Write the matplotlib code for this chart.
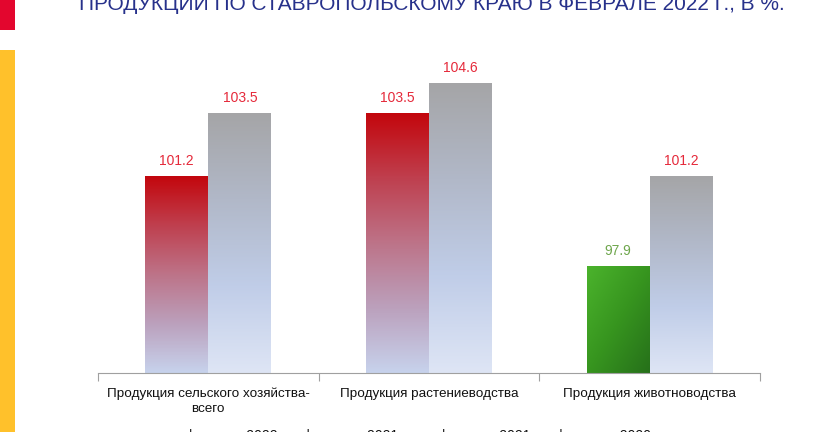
import numpy as np
import matplotlib
matplotlib.use("Agg")
import matplotlib.pyplot as plt
from matplotlib.colors import LinearSegmentedColormap
from matplotlib.patches import Rectangle

plt.rcParams['font.family'] = ['Liberation Sans', 'DejaVu Sans']

# ---- data ----
categories = ["Продукция сельского хозяйства-\nвсего",
              "Продукция растениеводства",
              "Продукция животноводства"]
series_2022 = [101.2, 103.5, 97.9]
series_2021 = [103.5, 104.6, 101.2]
legend_labels = ["февраль 2022 г. к февралю 2021 г.",
                 "февраль 2021 г. к февралю 2020 г."]
title = "ПРОДУКЦИИ ПО СТАВРОПОЛЬСКОМУ КРАЮ В ФЕВРАЛЕ 2022 Г., В %."

W, H = 832, 432
fig = plt.figure(figsize=(W / 100, H / 100), dpi=100)
fig.patch.set_facecolor('white')

# decorations on the left
fig.add_artist(Rectangle((0, 1 - 30 / H), 15 / W, 30 / H, transform=fig.transFigure,
                         facecolor='#E3062E', edgecolor='none'))
fig.add_artist(Rectangle((0, 0), 15 / W, (H - 50) / H, transform=fig.transFigure,
                         facecolor='#FFC12B', edgecolor='none'))

# title (cut off at the top, as in the reference)
fig.text(432 / W, 1 - 10 / H, title, ha='center', va='baseline', fontsize=15,
         color='#27318B')

ymin, ymax = 94, 106
ax = fig.add_axes([98 / W, 1 - 373 / H, (760 - 98) / W, (12 * 27.4) / H])
ax.set_xlim(-0.5, 2.5)
ax.set_ylim(ymin, ymax)
for s in ['top', 'right', 'left']:
    ax.spines[s].set_visible(False)
ax.spines['bottom'].set_color('#A0A0A0')
ax.set_yticks([])
ax.set_xticks([-0.5, 0.5, 1.5, 2.5], minor=False)
ax.set_xticklabels([])
ax.tick_params(axis='x', length=6, color='#A0A0A0', direction='out')
for i, c in enumerate(categories):
    ax.text(i, -0.045, c, transform=ax.get_xaxis_transform(), ha='center', va='top',
            fontsize=9.7, color='#111111', linespacing=1.25)

red_cmap = LinearSegmentedColormap.from_list('r', ['#C3060C', '#BF3F4E', '#BD7388', '#BBA0BC', '#C7D2EC'])
gray_cmap = LinearSegmentedColormap.from_list('g', ['#A5A5A7', '#B1B8C8', '#C0CDE8', '#DEE5F5'])
green_cmap = LinearSegmentedColormap.from_list('gr', ['#4BB32C', '#37951F', '#26701A'])

bw = 0.285
off = 0.143
x = np.arange(len(categories))

def grad_bar(xc, val, cmap, diagonal=False):
    b = ax.bar(xc, val - ymin, bw, bottom=ymin, facecolor='none', edgecolor='none')[0]
    if diagonal:
        yy, xx = np.mgrid[0:1:100j, 0:1:100j]
        img = (xx * 0.5 + yy * 0.5)
    else:
        img = np.linspace(0, 1, 200).reshape(-1, 1)
    im = ax.imshow(img, cmap=cmap, aspect='auto', origin='upper',
                   extent=[xc - bw / 2, xc + bw / 2, ymin, val], zorder=2)
    im.set_clip_path(b)
    return b

for i in range(len(categories)):
    v1 = series_2022[i]
    v2 = series_2021[i]
    green = v1 < 100
    grad_bar(x[i] - off, v1, green_cmap if green else red_cmap, diagonal=green)
    grad_bar(x[i] + off, v2, gray_cmap)
    ax.text(x[i] - off, v1 + 0.28, f"{v1:.1f}", ha='center', va='bottom', fontsize=10,
            color='#6EA64C' if green else '#E5293A')
    ax.text(x[i] + off, v2 + 0.28, f"{v2:.1f}", ha='center', va='bottom', fontsize=10,
            color='#E5293A')
ax.set_xlim(-0.5, 2.5)
ax.set_ylim(ymin, ymax)

# legend (cut off at the bottom, as in the reference)
leg_x = [172, 425]
leg_cols = ['#C3060C', '#A5A5A7']
for lx, lab, col in zip(leg_x, legend_labels, leg_cols):
    fig.add_artist(Rectangle((lx / W, 1 - 440 / H), 8 / W, 8 / H, transform=fig.transFigure,
                             facecolor=col, edgecolor='none'))
    fig.text((lx + 13) / W, 1 - 429 / H, lab, ha='left', va='top', fontsize=10,
             color='#111111')

fig.savefig('out.png', dpi=100)
